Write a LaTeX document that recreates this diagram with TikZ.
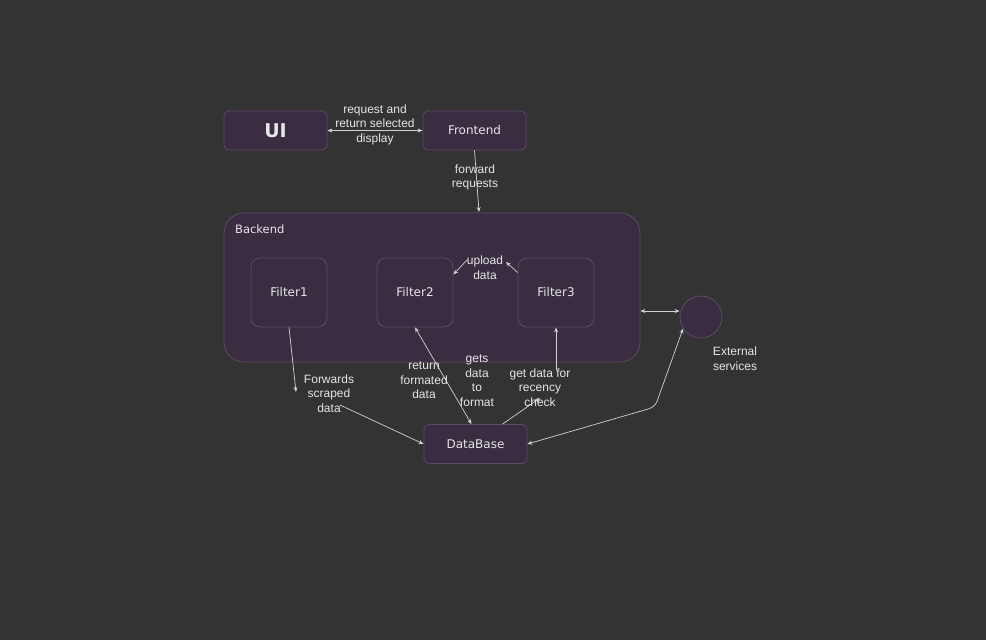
\documentclass[tikz,border=0pt]{standalone}
\usepackage{fontspec}
\setmainfont{Liberation Sans}
\newfontfamily\boxfont{DejaVu Sans}
\usepackage{tikz}
\usetikzlibrary{arrows.meta, positioning, calc}
\definecolor{bgdark}{HTML}{333333}
\definecolor{boxfill}{HTML}{3A2D41}
\definecolor{boxline}{HTML}{5E4A68}
\definecolor{inktext}{HTML}{E6E6E6}
\definecolor{wireline}{HTML}{D2D2D2}

\begin{document}
\begin{tikzpicture}[x=1pt, y=-1pt,
    >={Stealth[length=5pt,width=4pt]},
    box/.style={draw=boxline, fill=boxfill, line width=0.8pt, rounded corners=5pt,
        text=inktext, font=\boxfont\fontsize{12}{14}\selectfont, inner sep=0pt,
        minimum width=103pt, minimum height=39pt},
    filterbox/.style={box, rounded corners=9pt, minimum width=76pt, minimum height=69pt},
    lbl/.style={text=inktext, font=\fontsize{12}{14.6}\selectfont, align=center, inner sep=1pt},
    wire/.style={draw=wireline, line width=0.7pt}
]
    % Background and frame
    \fill[bgdark] (0,0) rectangle (986,640);
    \useasboundingbox (0,0) rectangle (986,640);

    % Backend cluster
    \node[box, rounded corners=20pt, minimum width=416pt, minimum height=149pt] (backend) at (432,287.5) {};
    \node[lbl, font=\boxfont\fontsize{11.5}{14}\selectfont, anchor=west] (backendtitle) at (234,229) {Backend};

    % Main nodes
    \node[box, font=\boxfont\bfseries\fontsize{19}{22}\selectfont] (ui) at (275.5,130.5) {UI};
    \node[box] (front) at (474.5,130.5) {Frontend};
    \node[box] (db) at (475.5,444) {DataBase};
    \node[filterbox] (f1) at (289,292.5) {Filter1};
    \node[filterbox] (f2) at (415,292.5) {Filter2};
    \node[filterbox] (f3) at (556,292.5) {Filter3};
    \node[circle, draw=boxline, fill=boxfill, line width=0.8pt, minimum size=42pt] (ext) at (701,317) {};

    % Free ends
    \coordinate (bkin) at (479,212);
    \coordinate (fsend) at (296,392);
    \coordinate (recmid) at (540,398);
    \coordinate (recup) at (556,370);
    \coordinate (bend) at (655,407);

    % Connectors
    \draw[wire, <->] (ui) -- (front);
    \draw[wire, ->] (front.south) -- (bkin);
    \draw[wire, ->] ($(f3.west)+(0,-20)$) -- (506,262);
    \draw[wire, ->] (467,260) -- ($(f2.east)+(0,-18)$);
    \draw[wire, ->] (f1.south) -- (fsend);
    \draw[wire, ->] (340,405) -- (db.west);
    \draw[wire, <->] (f2.south) -- ($(db.north)+(-4,0)$);
    \draw[wire, ->] ($(db.north)+(27,0)$) -- (recmid);
    \draw[wire, ->] (recup) -- (f3.south);
    \draw[wire, <->, rounded corners=6pt] (db.east) -- (bend) -- (ext.213);
    \draw[wire, <->] ($(backend.east)+(0,23.5)$) -- ($(ext.west)+(0,-6)$);

    % Labels
    \node[lbl] (reqlbl) at (375,124.5) {request and\\return selected\\display};
    \node[lbl] (fwdlbl) at (475,177.5) {forward\\requests};
    \node[lbl] (upllbl) at (485,267.5) {upload\\data};
    \node[lbl] (fsclbl) at (329,393.5) {Forwards\\scraped\\data};
    \node[lbl] (retlbl) at (424,380.5) {return\\formated\\data};
    \node[lbl] (getslbl) at (477,380.5) {gets\\data\\to\\format};
    \node[lbl] (reclbl) at (540,387.5) {get data for\\recency\\check};
    \node[lbl] (extlbl) at (735,358.5) {External\\services};
\end{tikzpicture}
\end{document}
